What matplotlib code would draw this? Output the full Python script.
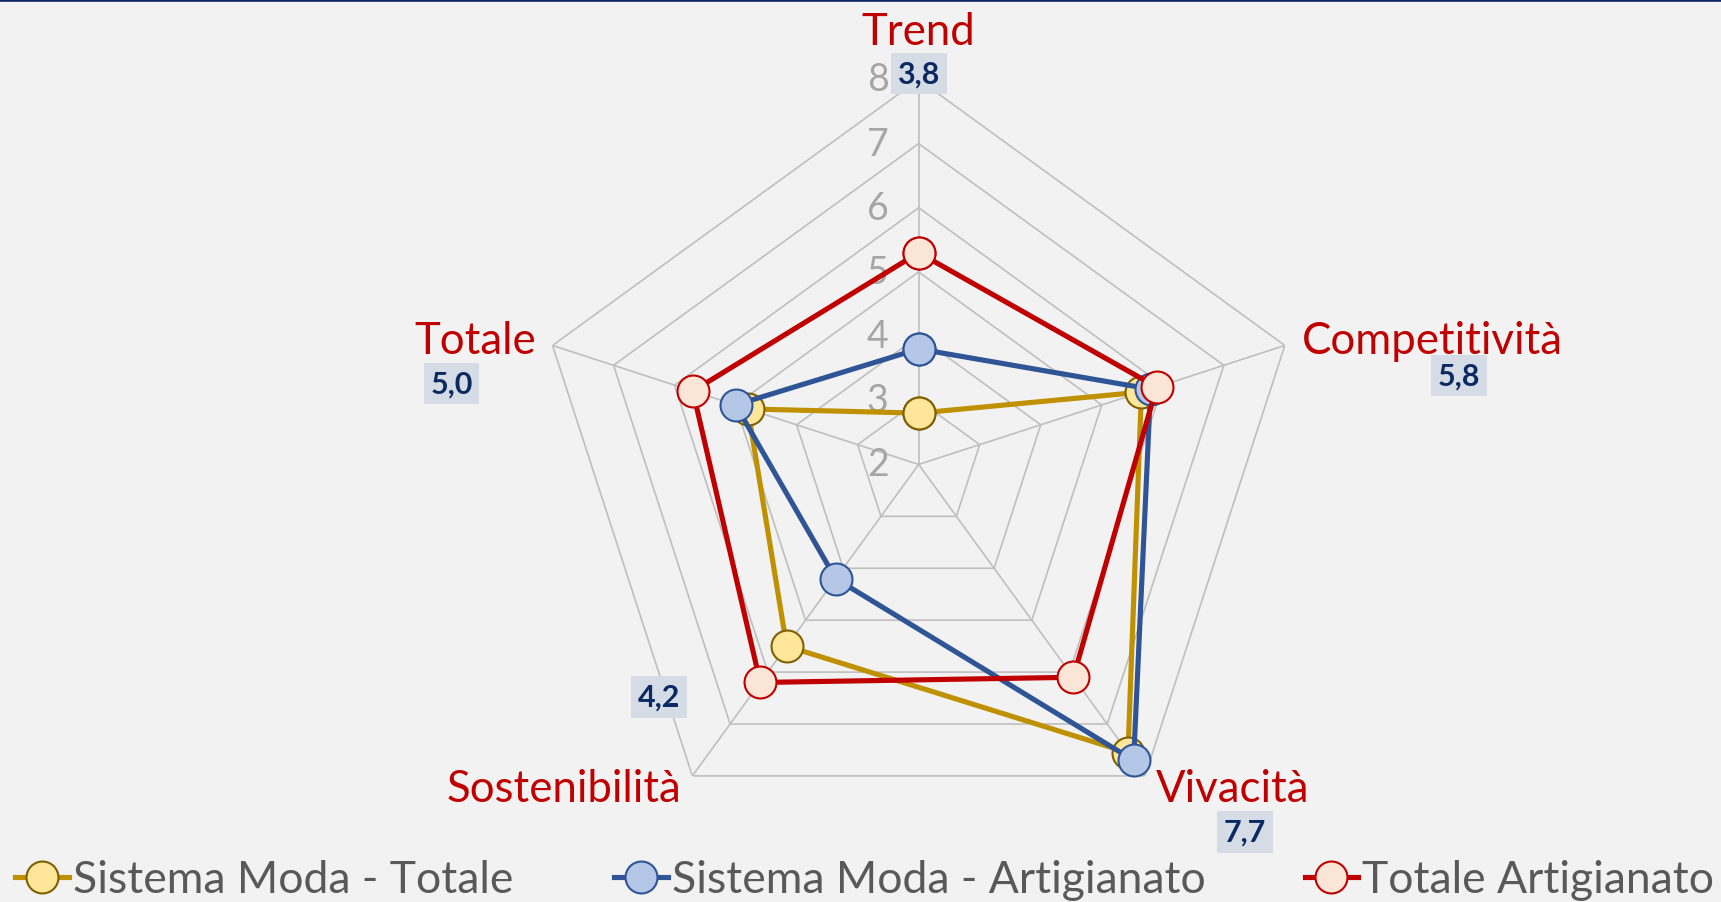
import numpy as np
import matplotlib.pyplot as plt
from matplotlib.lines import Line2D

# data
categories = ["Trend", "Competitività", "Vivacità", "Sostenibilità", "Totale"]
series_names = ["Sistema Moda - Totale", "Sistema Moda - Artigianato", "Totale Artigianato"]
moda_totale = [2.8, 5.65, 7.55, 5.5, 4.8]
moda_artigianato = [3.8, 5.8, 7.7, 4.2, 5.0]
totale_artigianato = [5.3, 5.9, 6.1, 6.2, 5.7]
r_ticks = [2, 3, 4, 5, 6, 7, 8]

plt.rcParams['font.family'] = ['Lato', 'DejaVu Sans']

bg = '#f2f2f2'
grid_col = '#bfbfbf'
fig = plt.figure(figsize=(17.21, 9.03), dpi=100, facecolor=bg)
ax = fig.add_axes([0.3101, 0.0582, 0.4474, 0.8527], projection='polar', facecolor=bg)
ax.set_theta_offset(np.pi / 2)
ax.set_theta_direction(-1)
ax.set_ylim(r_ticks[0], r_ticks[-1])
ax.grid(False)
ax.spines['polar'].set_visible(False)
ax.set_xticks([])
ax.set_yticks([])

angles = np.linspace(0, 2 * np.pi, len(categories), endpoint=False)
closed = np.append(angles, angles[0])

# pentagon grid and spokes
for r in r_ticks[1:]:
    ax.plot(closed, [r] * len(closed), color=grid_col, lw=1.2, zorder=1)
for a in angles:
    ax.plot([a, a], [r_ticks[0], r_ticks[-1]], color=grid_col, lw=1.2, zorder=1)

# radial tick labels
for r in r_ticks:
    ax.annotate(str(r), xy=(0, r), xytext=(-30, 0), textcoords='offset pixels',
                ha='right', va='center', color='#a6a6a6', fontsize=27, zorder=2)

# series
styles = [
    dict(color='#bf9000', mfc='#ffe699', mec='#7f6000'),
    dict(color='#2f5597', mfc='#b4c7e7', mec='#2f5597'),
    dict(color='#c00000', mfc='#fbe5d6', mec='#c00000'),
]
handles = []
for name, vals, st in zip(series_names, [moda_totale, moda_artigianato, totale_artigianato], styles):
    v = np.append(vals, vals[0])
    ln, = ax.plot(closed, v, lw=3.7, marker='o', ms=23, mew=1.5, zorder=3,
                  clip_on=False, label=name, **st)
    handles.append(ln)

# category labels
cat_offsets = [(0, 48, 'center'), (17, 5, 'left'), (11, -13, 'left'),
               (-11, -13, 'right'), (-17, 5, 'right')]
for a, name, (dx, dy, ha) in zip(angles, categories, cat_offsets):
    ax.annotate(name, xy=(a, r_ticks[-1]), xytext=(dx, dy), textcoords='offset pixels',
                ha=ha, va='center', color='#c00000', fontsize=31.5, annotation_clip=False)

# data labels (Sistema Moda - Artigianato)
lab_offsets = [(0, 6), (174, -30), (100, -56), (-33, 79), (-101, -38)]
for a, v, (dx, dy) in zip(angles, moda_artigianato, lab_offsets):
    ax.annotate(f"{v:.1f}".replace('.', ','), xy=(a, r_ticks[-1]), xytext=(dx, dy),
                textcoords='offset pixels', ha='center', va='center',
                color='#0b2a62', fontsize=22, fontweight='bold', zorder=4,
                bbox=dict(boxstyle='square,pad=0.22', fc='#d6dce5', ec='none'),
                annotation_clip=False)

# legend, one entry per position
leg_x = [0.009, 0.357, 0.758]
for h, x in zip(handles, leg_x):
    fig.legend([h], [h.get_label()], loc='center left', bbox_to_anchor=(x, 0.0244),
               frameon=False, fontsize=32, labelcolor='#595959', handlelength=1.2,
               handletextpad=0.1, borderpad=0, borderaxespad=0)

# dark top border
fig.add_artist(Line2D([0, 1], [1, 1], transform=fig.transFigure, color='#0b2160', lw=4))

fig.savefig('out.png', dpi=100, facecolor=bg)
